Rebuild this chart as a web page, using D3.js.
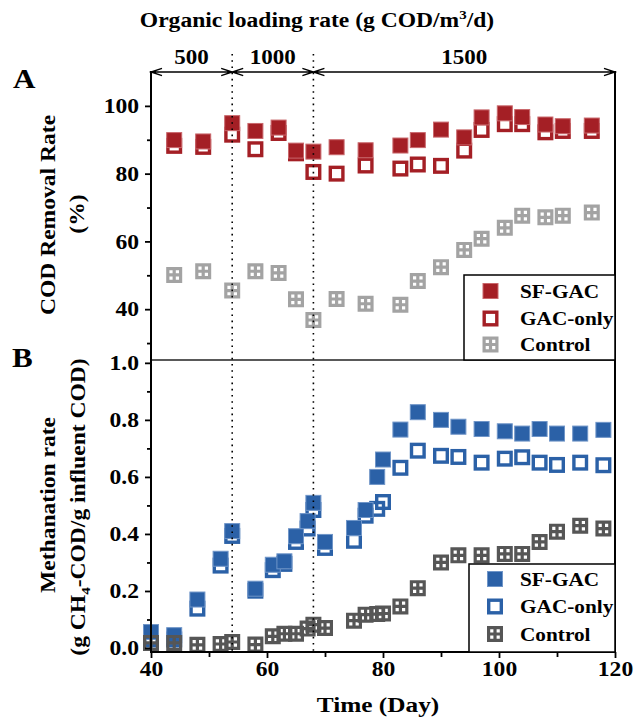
<!DOCTYPE html>
<html>
<head>
<meta charset="utf-8">
<script src="https://cdn.jsdelivr.net/npm/d3@7/dist/d3.min.js"></script>
<style>
  html, body { margin: 0; padding: 0; background: #fff; }
  svg { display: block; }
  text { font-family: "Liberation Serif", "Times New Roman", serif; font-weight: bold; fill: #000; }
</style>
</head>
<body>
<svg id="chart" width="635" height="724"></svg>
<script>
// ---- Data -------------------------------------------------------------
// Panel A: COD removal rate (%)
const daysA = [44, 49, 54, 58, 62, 65, 68, 72, 77, 83, 86, 90, 94, 97, 101, 104, 108, 111, 116];
const codSF = [89.9, 89.5, 94.9, 92.6, 93.6, 86.8, 86.5, 87.8, 86.9, 88.3, 89.9, 93.0, 90.7, 96.6, 97.8, 96.7, 94.5, 94.0, 94.2];
const codGAC = [88.2, 87.9, 91.5, 87.2, 92.0, 86.0, 80.5, 80.0, 82.4, 81.5, 82.7, 82.3, 86.8, 92.9, 94.6, 94.6, 92.2, 92.6, 92.6];
const codCtrl = [50.1, 51.2, 45.5, 51.2, 50.7, 42.9, 36.8, 43.0, 41.6, 41.3, 48.3, 52.4, 57.5, 60.8, 64.0, 67.6, 67.1, 67.6, 68.5];

// Panel B: methanation rate (g CH4-COD / g influent COD)
const daysB = [40, 44, 48, 52, 54, 58, 61, 63, 65, 67, 68, 70, 75, 77, 79, 80, 83, 86, 90, 93, 97, 101, 104, 107, 110, 114, 118];
const ch4SF = [0.056, 0.045, 0.170, 0.313, 0.410, 0.208, 0.292, 0.304, 0.392, 0.445, 0.509, 0.372, 0.421, 0.484, 0.600, 0.661, 0.766, 0.827, 0.800, 0.776, 0.768, 0.760, 0.752, 0.768, 0.752, 0.752, 0.765];
const ch4GAC = [0.030, 0.030, 0.138, 0.289, 0.393, 0.201, 0.273, 0.295, 0.372, 0.419, 0.484, 0.351, 0.376, 0.464, 0.488, 0.512, 0.632, 0.692, 0.674, 0.670, 0.650, 0.664, 0.669, 0.650, 0.642, 0.650, 0.641];
const ch4Ctrl = [0.018, 0.018, 0.011, 0.014, 0.021, 0.012, 0.041, 0.050, 0.050, 0.068, 0.082, 0.070, 0.096, 0.117, 0.119, 0.121, 0.146, 0.210, 0.300, 0.325, 0.325, 0.330, 0.330, 0.372, 0.408, 0.429, 0.419];

// Loading-rate phases (day boundaries) and their labels
const phaseBounds = [40, 54, 68, 120];
const phaseLabels = ["500", "1000", "1500"];

const seriesNames = ["SF-GAC", "GAC-only", "Control"];
const xTicks = [40, 60, 80, 100, 120];
const xMinor = [50, 70, 90, 110];
const yTicksA = [40, 60, 80, 100];
const yMinorA = [30, 50, 70, 90];
const yTicksB = [0, 0.2, 0.4, 0.6, 0.8, 1.0];
const yMinorB = [0.1, 0.3, 0.5, 0.7, 0.9];

// ---- Setup ------------------------------------------------------------
const svg = d3.select("#chart");
const SX = 1.15; // horizontal stretch of the bold serif lettering

const x = d3.scaleLinear().domain([40, 120]).range([151, 615]);
const yA = d3.scaleLinear().domain([25, 110]).range([360, 72]);
const yB = d3.scaleLinear().domain([-0.014, 1.01]).range([652, 360]);

const colA = { sf: "#A41F25", sfEdge: "#C9676B", ctrl: "#A3A3A3" };
const colB = { sf: "#2B61A7", sfEdge: "#6F95C8", ctrl: "#565656" };

function label(g, opts) {
  const t = g.append("text")
    .attr("text-anchor", opts.anchor || "middle")
    .attr("font-size", opts.size)
    .attr("transform", `translate(${opts.x},${opts.y}) rotate(${opts.rotate || 0}) scale(${SX},1)`);
  if (opts.parts) {
    opts.parts.forEach(p => {
      const ts = t.append("tspan").text(p.t);
      if (p.size) ts.attr("font-size", p.size);
      if (p.dy) ts.attr("dy", p.dy);
    });
  } else {
    t.text(opts.text);
  }
  return t;
}

// ---- Markers ----------------------------------------------------------
const S = 16;
function filledSq(g, cx, cy, fill, edge) {
  g.append("rect")
    .attr("x", cx - S / 2 + 0.5).attr("y", cy - S / 2 + 0.5)
    .attr("width", S - 1).attr("height", S - 1)
    .attr("fill", fill).attr("stroke", edge).attr("stroke-width", 1);
}
function hollowSq(g, cx, cy, color) {
  const sw = 3.4;
  g.append("rect")
    .attr("x", cx - S / 2 + sw / 2).attr("y", cy - S / 2 + sw / 2)
    .attr("width", S - sw).attr("height", S - sw)
    .attr("fill", "none").attr("stroke", color).attr("stroke-width", sw);
}
function gridSq(g, cx, cy, color) {
  // square with four see-through windows
  const h = S / 2, a = 1.6, b = 4.8;
  let d = `M${cx - h},${cy - h}h${S}v${S}h${-S}z`;
  [[-b, -b], [a, -b], [-b, a], [a, a]].forEach(([dx, dy]) => {
    d += `M${cx + dx},${cy + dy}h${b - a}v${b - a}h${-(b - a)}z`;
  });
  g.append("path").attr("d", d).attr("fill", color).attr("fill-rule", "evenodd");
}

// ---- Frame ------------------------------------------------------------
const frame = svg.append("g");
const x0 = x.range()[0], x1 = x.range()[1];
// divider between panels
frame.append("line").attr("x1", x0).attr("x2", x1).attr("y1", 360).attr("y2", 360)
  .attr("stroke", "#222").attr("stroke-width", 1.5);

// phase dividers
phaseBounds.slice(1, -1).forEach(d => {
  frame.append("line").attr("x1", x(d)).attr("x2", x(d)).attr("y1", 54).attr("y2", 652)
    .attr("stroke", "#000").attr("stroke-width", 1.6).attr("stroke-dasharray", "1.6,4.6");
});

// ---- Panel A markers -------------------------------------------------
const gA = svg.append("g");
daysA.forEach((d, i) => hollowSq(gA, x(d), yA(codGAC[i]), colA.sf));
daysA.forEach((d, i) => filledSq(gA, x(d), yA(codSF[i]), colA.sf, colA.sfEdge));
daysA.forEach((d, i) => gridSq(gA, x(d), yA(codCtrl[i]), colA.ctrl));

// ---- Panel B markers -------------------------------------------------
const gB = svg.append("g");
daysB.forEach((d, i) => hollowSq(gB, x(d), yB(ch4GAC[i]), colB.sf));
daysB.forEach((d, i) => filledSq(gB, x(d), yB(ch4SF[i]), colB.sf, colB.sfEdge));
daysB.forEach((d, i) => gridSq(gB, x(d), yB(ch4Ctrl[i]), colB.ctrl));

// ---- Axes -------------------------------------------------------------
function styleAxis(g) {
  g.select(".domain").remove();
  g.selectAll(".tick line").attr("stroke", "#000").attr("stroke-width", 1.8);
}
const axA = svg.append("g").attr("transform", `translate(${x0},0)`)
  .call(d3.axisLeft(yA).tickValues(yTicksA).tickSize(6).tickPadding(11).tickFormat(d3.format("d")))
  .call(styleAxis);
svg.append("g").attr("transform", `translate(${x0},0)`)
  .call(d3.axisLeft(yA).tickValues(yMinorA).tickSize(4).tickFormat(""))
  .call(styleAxis);
const axB = svg.append("g").attr("transform", `translate(${x0},0)`)
  .call(d3.axisLeft(yB).tickValues(yTicksB).tickSize(6).tickPadding(11).tickFormat(d3.format(".1f")))
  .call(styleAxis);
svg.append("g").attr("transform", `translate(${x0},0)`)
  .call(d3.axisLeft(yB).tickValues(yMinorB).tickSize(4).tickFormat(""))
  .call(styleAxis);
const axX = svg.append("g").attr("transform", `translate(0,652)`)
  .call(d3.axisBottom(x).tickValues(xTicks).tickSize(6).tickPadding(6).tickFormat(d3.format("d")))
  .call(styleAxis);
svg.append("g").attr("transform", `translate(0,652)`)
  .call(d3.axisBottom(x).tickValues(xMinor).tickSize(5).tickFormat(""))
  .call(styleAxis);

[axA, axB, axX].forEach(ax => {
  ax.selectAll(".tick text")
    .attr("font-family", "Liberation Serif, Times New Roman, serif")
    .attr("font-weight", "bold").attr("font-size", 20.5).attr("fill", "#000");
});
[axA, axB].forEach(ax => {
  ax.selectAll(".tick text").attr("x", null).attr("dy", "0.33em")
    .attr("transform", `translate(-12,0) scale(${SX},1)`);
});
axX.selectAll(".tick text").attr("y", null).attr("dy", null)
  .attr("transform", `translate(0,24) scale(${SX},1)`);

// axis lines drawn over tick bases
frame.raise();
svg.append("line").attr("x1", x0).attr("x2", x0).attr("y1", 71).attr("y2", 653)
  .attr("stroke", "#000").attr("stroke-width", 2);
svg.append("line").attr("x1", x1).attr("x2", x1).attr("y1", 71).attr("y2", 653)
  .attr("stroke", "#000").attr("stroke-width", 2);
svg.append("line").attr("x1", x0 - 1).attr("x2", x1 + 1).attr("y1", 652).attr("y2", 652)
  .attr("stroke", "#000").attr("stroke-width", 2);

// ---- Loading-rate arrows ---------------------------------------------
const arrowY = 72;
const gArr = svg.append("g").attr("fill", "none").attr("stroke", "#000").attr("stroke-width", 1.4);
for (let i = 0; i < phaseLabels.length; i++) {
  const a = x(phaseBounds[i]), b = x(phaseBounds[i + 1]);
  gArr.append("path").attr("d",
    `M${a},${arrowY}L${b},${arrowY}` +
    `M${a + 11},${arrowY - 3.6}L${a},${arrowY}L${a + 11},${arrowY + 3.6}` +
    `M${b - 11},${arrowY - 3.6}L${b},${arrowY}L${b - 11},${arrowY + 3.6}`);
  label(svg, { x: (a + b) / 2, y: 64, text: phaseLabels[i], size: 20 });
}
label(svg, {
  x: 317, y: 27, size: 20.5,
  parts: [{ t: "Organic loading rate (g COD/m" }, { t: "3", size: 13, dy: -8 }, { t: "/d)", dy: 8 }]
});

// ---- Legends ----------------------------------------------------------
function legend(box, mx, tx, rows, col) {
  svg.append("rect").attr("x", box[0]).attr("y", box[1]).attr("width", box[2]).attr("height", box[3])
    .attr("fill", "#fff").attr("stroke", "#000").attr("stroke-width", 1.5);
  const g = svg.append("g");
  filledSq(g, mx, rows[0], col.sf, col.sfEdge);
  g.append("rect").attr("x", mx - S / 2).attr("y", rows[1] - S / 2).attr("width", S).attr("height", S).attr("fill", "#fff");
  hollowSq(g, mx, rows[1], col.sf);
  gridSq(g, mx, rows[2], col.ctrl);
  seriesNames.forEach((n, i) => label(svg, { x: tx, y: rows[i] + 6.5, text: n, size: 18.5, anchor: "start" }));
}
legend([464, 275, 151, 85], 490.5, 520, [291, 318.5, 344.5], colA);
legend([469, 564, 146, 88], 495, 520, [579, 606.5, 634], colB);

// ---- Titles -----------------------------------------------------------
label(svg, { x: 13, y: 88, text: "A", size: 27, anchor: "start" });
label(svg, { x: 12, y: 367, text: "B", size: 27, anchor: "start" });

label(svg, { x: 55, y: 215, text: "COD Removal Rate", size: 20.5, rotate: -90 });
label(svg, { x: 84, y: 214, text: "(%)", size: 20.5, rotate: -90 });

label(svg, { x: 55, y: 505, text: "Methanation rate", size: 20.5, rotate: -90 });
label(svg, {
  x: 85, y: 507, size: 20.5, rotate: -90,
  parts: [{ t: "(g CH" }, { t: "4", size: 13, dy: 5 }, { t: "-COD/g influent COD)", dy: -5 }]
});

label(svg, { x: 378, y: 712, text: "Time (Day)", size: 22 });
</script>
</body>
</html>
